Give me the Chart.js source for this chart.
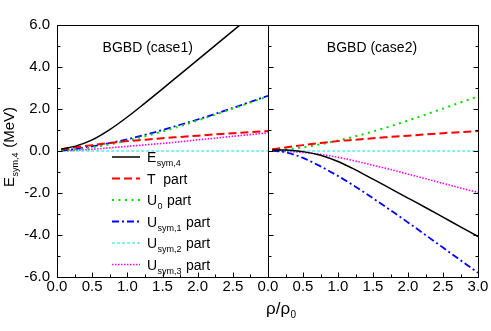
<!DOCTYPE html>
<html>
<head>
<meta charset="utf-8">
<script src="https://cdn.jsdelivr.net/npm/chart.js@4.4.1/dist/chart.umd.min.js"></script>
<style>
    body { margin: 0; background: #fff; }
    #wrap { position: relative; width: 491px; height: 331px; overflow: hidden; }
    #case1 { position: absolute; left: 0; top: 0; }
    #case2 { position: absolute; left: 248px; top: 0; }
</style>
</head>
<body>
<div id="wrap">
    <canvas id="case1" width="272" height="331"></canvas>
    <canvas id="case2" width="243" height="331"></canvas>
</div>
<script>
// rho/rho0 values where the curves are sampled
const density = [0.06, 0.25, 0.5, 0.75, 1.0, 1.25, 1.5, 1.75, 2.0, 2.25, 2.5, 2.75, 3.0];

// case 1 (MeV)
const eSymCase1   = [0.10, 0.22, 0.53, 1.02, 1.62, 2.28, 2.96, 3.65, 4.34, 5.03, 5.72, 6.41, 7.10];
const uSym1Case1  = [0.03, 0.09, 0.22, 0.38, 0.56, 0.77, 1.00, 1.25, 1.50, 1.77, 2.05, 2.34, 2.63];
const uSym3Case1  = [0.00, 0.03, 0.08, 0.15, 0.22, 0.29, 0.36, 0.44, 0.53, 0.61, 0.70, 0.78, 0.87];

// case 2 (MeV)
const eSymCase2   = [0.05, 0.05, -0.03, -0.20, -0.50, -0.90, -1.34, -1.79, -2.24, -2.69, -3.15, -3.61, -4.07];
const uSym1Case2  = [0.02, -0.06, -0.33, -0.73, -1.19, -1.70, -2.25, -2.82, -3.40, -4.00, -4.60, -5.20, -5.80];
const uSym3Case2  = [0.00, -0.02, -0.07, -0.16, -0.30, -0.48, -0.68, -0.88, -1.10, -1.32, -1.54, -1.76, -1.97];

// same in both cases
const tPart  = [0.08, 0.17, 0.28, 0.38, 0.47, 0.54, 0.61, 0.67, 0.73, 0.79, 0.85, 0.90, 0.95];
const u0Part = [0.02, 0.07, 0.18, 0.32, 0.50, 0.70, 0.93, 1.18, 1.45, 1.73, 2.02, 2.31, 2.60];
const uSym2  = [0, 0, 0, 0, 0, 0, 0, 0, 0, 0, 0, 0, 0];

const xTicks = [0, 0.5, 1, 1.5, 2, 2.5, 3];
const yTicks = [-6, -4, -2, 0, 2, 4, 6];
const panelTitles = ['BGBD (case1)', 'BGBD (case2)'];

// legend text: main, subscript, tail
const legendMain = ['E', 'T', 'U', 'U', 'U', 'U'];
const legendSub  = ['sym,4', '', '0', 'sym,1', 'sym,2', 'sym,3'];
const legendTail = ['', '  part', ' part', ' part', ' part', ' part'];

const lineStyles = [
    { color: '#000000', dash: [], width: 1.5 },
    { color: '#ff0000', dash: [8, 4], width: 2 },
    { color: '#00dd00', dash: [2, 4.5], width: 2 },
    { color: '#0000ff', dash: [7, 3, 2, 3], width: 1.8 },
    { color: '#00e0e0', dash: [3, 2], width: 1 },
    { color: '#ff00ff', dash: [1.5, 1.5], width: 1.6 }
];

const FONT = '"Liberation Sans", Arial, sans-serif';

function drawSubText(ctx, x, y, main, sub, tail, size, subSize) {
    ctx.font = size + 'px ' + FONT;
    ctx.fillText(main, x, y);
    x += ctx.measureText(main).width;
    if (sub) {
        ctx.font = subSize + 'px ' + FONT;
        ctx.fillText(sub, x + 0.5, y + 4);
        x += ctx.measureText(sub).width + 1;
    }
    ctx.font = size + 'px ' + FONT;
    ctx.fillText(tail, x, y);
}

function textWidth(ctx, main, sub, tail, size, subSize) {
    ctx.font = size + 'px ' + FONT;
    let w = ctx.measureText(main + tail).width;
    ctx.font = subSize + 'px ' + FONT;
    return w + ctx.measureText(sub).width + 1;
}

// frame, inward ticks, titles, legend
const panelPlugin = {
    id: 'panel',
    afterDatasetsDraw(chart, args, o) {
        const { ctx, chartArea: a, scales: { x, y } } = chart;
        const L = Math.round(a.left) + 0.5, R = Math.round(a.right) + 0.5;
        const T = Math.round(a.top) + 0.5, B = Math.round(a.bottom) + 0.5;
        ctx.save();
        ctx.strokeStyle = '#000';
        ctx.lineWidth = 1;
        ctx.setLineDash([]);
        ctx.strokeRect(L, T, R - L, B - T);

        ctx.beginPath();
        for (let i = 0; i < yTicks.length; i++) {
            const vals = [yTicks[i]];
            if (i < yTicks.length - 1) vals.push((yTicks[i] + yTicks[i + 1]) / 2);
            vals.forEach((v, k) => {
                const len = k === 0 ? 5 : 3;
                const py = Math.round(y.getPixelForValue(v)) + 0.5;
                ctx.moveTo(L, py); ctx.lineTo(L + len, py);
                if (o.rightTicks) { ctx.moveTo(R, py); ctx.lineTo(R - len, py); }
            });
        }
        for (let i = 0; i < xTicks.length; i++) {
            const vals = [xTicks[i]];
            if (i < xTicks.length - 1) vals.push((xTicks[i] + xTicks[i + 1]) / 2);
            vals.forEach((v, k) => {
                const len = k === 0 ? 5 : 3;
                const px = Math.round(x.getPixelForValue(v)) + 0.5;
                ctx.moveTo(px, B); ctx.lineTo(px, B - len);
            });
        }
        ctx.stroke();

        ctx.fillStyle = '#000';
        ctx.font = '14px ' + FONT;
        ctx.textAlign = 'center';
        ctx.textBaseline = 'alphabetic';
        ctx.fillText(o.title, a.left + o.titlePos * (a.right - a.left), 52);
        ctx.textAlign = 'left';

        if (o.legend) {
            chart.data.datasets.forEach((ds, i) => {
                const ry = 157 + i * 21.5;
                ctx.strokeStyle = ds.borderColor;
                ctx.lineWidth = ds.borderWidth;
                ctx.setLineDash(ds.borderDash);
                ctx.beginPath();
                ctx.moveTo(112, ry); ctx.lineTo(140, ry);
                ctx.stroke();
                ctx.setLineDash([]);
                drawSubText(ctx, 147, ry + 5, legendMain[i], legendSub[i], legendTail[i], 14, 9);
            });
        }

        if (o.yTitle) {
            const w = textWidth(ctx, 'E', 'sym,4', ' (MeV)', 15, 9);
            ctx.translate(14, 147 + w / 2);
            ctx.rotate(-Math.PI / 2);
            drawSubText(ctx, 0, 0, 'E', 'sym,4', ' (MeV)', 15, 9);
            ctx.setTransform(1, 0, 0, 1, 0, 0);
        }
        if (o.xTitle) {
            drawSubText(ctx, a.left - 2, 314, 'ρ/ρ', '0', '', 17, 10);
        }
        ctx.restore();
    }
};

function makeDatasets(series) {
    return series.map((vals, i) => ({
        data: density.map((d, k) => ({ x: d, y: vals[k] })),
        borderColor: lineStyles[i].color,
        borderDash: lineStyles[i].dash,
        borderWidth: lineStyles[i].width,
        pointRadius: 0,
        cubicInterpolationMode: 'monotone',
        fill: false
    }));
}

function makeChart(id, series, panel, yWidth, padRight, hideLastX) {
    const ctx = document.getElementById(id).getContext('2d');
    return new Chart(ctx, {
        type: 'line',
        data: { datasets: makeDatasets(series) },
        options: {
            responsive: false,
            animation: false,
            layout: { padding: { top: 25, right: padRight, bottom: 0, left: 0 } },
            plugins: { legend: { display: false }, tooltip: { enabled: false }, panel: panel },
            scales: {
                x: {
                    type: 'linear', min: 0, max: 3,
                    grid: { display: false, drawTicks: false },
                    border: { display: false },
                    afterBuildTicks: s => { s.ticks = xTicks.map(v => ({ value: v })); },
                    afterFit: s => { s.height = 54; },
                    ticks: {
                        autoSkip: false, maxRotation: 0, padding: 1, color: '#000',
                        font: { family: FONT, size: 15 },
                        callback: v => (hideLastX && v === 3) ? '' : v.toFixed(1)
                    }
                },
                y: {
                    type: 'linear', min: -6, max: 6,
                    grid: { display: false, drawTicks: false },
                    border: { display: false },
                    afterBuildTicks: s => { s.ticks = yTicks.map(v => ({ value: v })); },
                    afterFit: s => { s.width = yWidth; },
                    ticks: {
                        display: yWidth > 30, padding: 7, color: '#000',
                        font: { family: FONT, size: 15 },
                        callback: v => v.toFixed(1)
                    }
                }
            }
        },
        plugins: [panelPlugin]
    });
}

makeChart('case1',
    [eSymCase1, tPart, u0Part, uSym1Case1, uSym2, uSym3Case1],
    { title: panelTitles[0], titlePos: 0.43, legend: true, yTitle: true, rightTicks: false },
    57, 4, true);

makeChart('case2',
    [eSymCase2, tPart, u0Part, uSym1Case2, uSym2, uSym3Case2],
    { title: panelTitles[1], titlePos: 0.495, legend: false, xTitle: true, rightTicks: true },
    20, 13, false);
</script>
</body>
</html>
